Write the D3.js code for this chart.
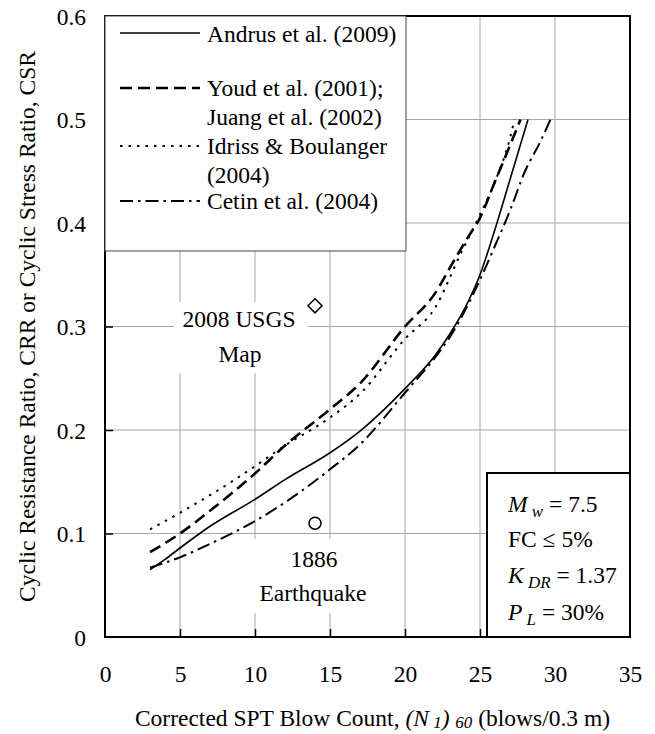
<!DOCTYPE html>
<html>
<head>
<meta charset="utf-8">
<script src="https://cdn.jsdelivr.net/npm/d3@7"></script>
<style>
  body { margin: 0; background: #fff; }
  svg { font-family: "Liberation Serif", "Times New Roman", serif; }
</style>
</head>
<body>
<div id="chart"></div>
<script>
// axis ticks
const xTicks = [0, 5, 10, 15, 20, 25, 30, 35];
const yTicks = [0, 0.1, 0.2, 0.3, 0.4, 0.5, 0.6];

// CRR curves, (N1)60 vs CRR
const andrusN   = [3, 4, 5, 7, 10, 12, 15, 17, 20, 22, 23, 24, 25, 26, 27, 28.2];
const andrusCRR = [0.065, 0.075, 0.086, 0.107, 0.133, 0.152, 0.178, 0.199, 0.24, 0.272, 0.293, 0.318, 0.35, 0.394, 0.442, 0.5];

const youdN   = [3, 5, 7, 10, 12, 15, 17, 20, 22, 23.2, 24.1, 25, 26, 27, 27.7];
const youdCRR = [0.082, 0.1, 0.122, 0.158, 0.185, 0.22, 0.245, 0.3, 0.332, 0.362, 0.384, 0.405, 0.44, 0.475, 0.5];

const idrissN   = [3, 5, 7, 10, 12, 15, 17, 20, 22, 23.7, 25, 26, 27, 27.3];
const idrissCRR = [0.104, 0.12, 0.137, 0.165, 0.185, 0.212, 0.235, 0.288, 0.318, 0.37, 0.408, 0.44, 0.482, 0.5];

const cetinN   = [3, 5, 7, 10, 12, 15, 17, 20, 22, 23, 25, 26, 27, 28, 29, 29.7];
const cetinCRR = [0.067, 0.077, 0.09, 0.112, 0.13, 0.162, 0.186, 0.236, 0.27, 0.29, 0.345, 0.378, 0.412, 0.45, 0.478, 0.5];

// annotated points
const usgsPoint = [14, 0.32];
const quakePoint = [14, 0.11];

const legendLabels = [
  ['Andrus et al. (2009)'],
  ['Youd et al. (2001);', 'Juang et al. (2002)'],
  ['Idriss & Boulanger', '(2004)'],
  ['Cetin et al. (2004)']
];

const W = 655, H = 734;
const FS = 23.5;
const svg = d3.select('#chart').append('svg').attr('width', W).attr('height', H);

const x = d3.scaleLinear().domain([0, 35]).range([105, 630]);
const y = d3.scaleLinear().domain([0, 0.6]).range([637, 16]);

// grid
svg.append('g')
  .selectAll('line')
  .data(xTicks.slice(1, -1))
  .join('line')
  .attr('x1', d => x(d)).attr('x2', d => x(d))
  .attr('y1', y(0)).attr('y2', y(0.6))
  .attr('stroke', '#a6a6a6').attr('stroke-width', 1);
svg.append('g')
  .selectAll('line')
  .data(yTicks.slice(1, -1))
  .join('line')
  .attr('y1', d => y(d)).attr('y2', d => y(d))
  .attr('x1', x(0)).attr('x2', x(35))
  .attr('stroke', '#a6a6a6').attr('stroke-width', 1);

// axes
const yAxis = d3.axisLeft(y).tickValues(yTicks).tickSize(-8).tickPadding(19)
  .tickFormat(d => d === 0 ? '0' : d3.format('.1f')(d));
const xAxis = d3.axisBottom(x).tickValues(xTicks).tickSize(-8).tickPadding(30)
  .tickFormat(d3.format('d'));

const gy = svg.append('g').attr('transform', `translate(${x(0)},0)`).call(yAxis);
const gx = svg.append('g').attr('transform', `translate(0,${y(0)})`).call(xAxis);
[gx, gy].forEach(g => {
  g.select('.domain').remove();
  g.selectAll('.tick line').attr('stroke', '#000').attr('stroke-width', 1.5);
  g.selectAll('.tick text').attr('font-size', FS).attr('font-family', 'Liberation Serif').attr('fill', '#000');
});
gy.selectAll('.tick').filter(d => d === 0 || d === 0.6).select('line').remove();
gx.selectAll('.tick').filter(d => d === 0 || d === 35).select('line').remove();
gy.selectAll('.tick text').attr('dy', '0.34em');
gx.selectAll('.tick text').attr('dy', '0.62em');

// white label backgrounds
svg.append('rect').attr('x', 174).attr('y', 302).attr('width', 134).attr('height', 71).attr('fill', '#fff');
svg.append('rect').attr('x', 250).attr('y', 539).attr('width', 126).attr('height', 74).attr('fill', '#fff');

// curves
const series = [
  { n: andrusN, v: andrusCRR, dash: null, w: 1.6 },
  { n: youdN, v: youdCRR, dash: '12,6', w: 2.6 },
  { n: idrissN, v: idrissCRR, dash: '2.5,6', w: 2 },
  { n: cetinN, v: cetinCRR, dash: '13,5,2.5,5', w: 2 }
];
const line = d3.line().x(d => x(d[0])).y(d => y(d[1])).curve(d3.curveMonotoneX);
svg.append('g')
  .selectAll('path')
  .data(series)
  .join('path')
  .attr('d', s => line(s.n.map((n, i) => [n, s.v[i]])))
  .attr('fill', 'none')
  .attr('stroke', '#000')
  .attr('stroke-width', s => s.w)
  .attr('stroke-dasharray', s => s.dash);

// plot frame
svg.append('rect')
  .attr('x', x(0)).attr('y', y(0.6))
  .attr('width', x(35) - x(0)).attr('height', y(0) - y(0.6))
  .attr('fill', 'none').attr('stroke', '#000').attr('stroke-width', 2);

// legend
const leg = svg.append('g');
leg.append('rect').attr('x', x(0)).attr('y', y(0.6)).attr('width', 301).attr('height', 235)
  .attr('fill', '#fff').attr('stroke', '#444').attr('stroke-width', 1);
const legLineY = [33, 88, 146, 201];
const legTextY = [[42], [96, 125], [154, 183], [209]];
series.forEach((s, i) => {
  leg.append('line')
    .attr('x1', 120).attr('x2', 200)
    .attr('y1', legLineY[i]).attr('y2', legLineY[i])
    .attr('stroke', '#000').attr('stroke-width', s.w)
    .attr('stroke-dasharray', s.dash);
  legendLabels[i].forEach((t, j) => {
    leg.append('text').attr('x', 207).attr('y', legTextY[i][j])
      .attr('font-size', FS).text(t);
  });
});

// markers
svg.append('rect')
  .attr('x', -5).attr('y', -5).attr('width', 10).attr('height', 10)
  .attr('transform', `translate(${x(usgsPoint[0])},${y(usgsPoint[1])}) rotate(45)`)
  .attr('fill', '#fff').attr('stroke', '#000').attr('stroke-width', 1.5);
svg.append('circle')
  .attr('cx', x(quakePoint[0])).attr('cy', y(quakePoint[1])).attr('r', 6)
  .attr('fill', '#fff').attr('stroke', '#000').attr('stroke-width', 1.5);

// annotations
const ann = [
  { t: '2008 USGS', x: 239, y: 327 },
  { t: 'Map', x: 240, y: 362 },
  { t: '1886', x: 314, y: 567 },
  { t: 'Earthquake', x: 313, y: 601 }
];
svg.append('g').selectAll('text').data(ann).join('text')
  .attr('x', d => d.x).attr('y', d => d.y)
  .attr('text-anchor', 'middle').attr('font-size', FS)
  .text(d => d.t);

// parameter box
svg.append('rect').attr('x', 487).attr('y', 473).attr('width', 143).attr('height', 164)
  .attr('fill', '#fff').attr('stroke', '#000').attr('stroke-width', 2);
const pb = svg.append('g').attr('font-size', FS);
function subText(yy, main, sub, rest) {
  const t = pb.append('text').attr('x', 508).attr('y', yy);
  t.append('tspan').attr('font-style', 'italic').text(main);
  t.append('tspan').attr('font-style', 'italic').attr('font-size', 17)
    .attr('dy', 5).text(' ' + sub);
  t.append('tspan').attr('dy', -5).text(rest);
}
subText(512, 'M', 'w', ' = 7.5');
pb.append('text').attr('x', 508).attr('y', 547).text('FC \u2264 5%');
subText(583, 'K', 'DR', ' = 1.37');
subText(620, 'P', 'L', ' = 30%');

// axis titles
svg.append('text')
  .attr('transform', `translate(35,${(y(0) + y(0.6)) / 2}) rotate(-90)`)
  .attr('text-anchor', 'middle').attr('font-size', FS)
  .text('Cyclic Resistance Ratio, CRR or Cyclic Stress Ratio, CSR');

const xt = svg.append('text')
  .attr('x', (x(0) + x(35)) / 2 + 5).attr('y', 726)
  .attr('text-anchor', 'middle').attr('font-size', FS);
xt.append('tspan').text('Corrected SPT Blow Count, ');
xt.append('tspan').attr('font-style', 'italic').text('(N');
xt.append('tspan').attr('font-style', 'italic').attr('font-size', 17).attr('dy', 2).text(' 1');
xt.append('tspan').attr('font-style', 'italic').attr('dy', -2).text(') ');
xt.append('tspan').attr('font-style', 'italic').attr('font-size', 17).attr('dy', 2).text('60');
xt.append('tspan').attr('dy', -2).text(' (blows/0.3 m)');
</script>
</body>
</html>
